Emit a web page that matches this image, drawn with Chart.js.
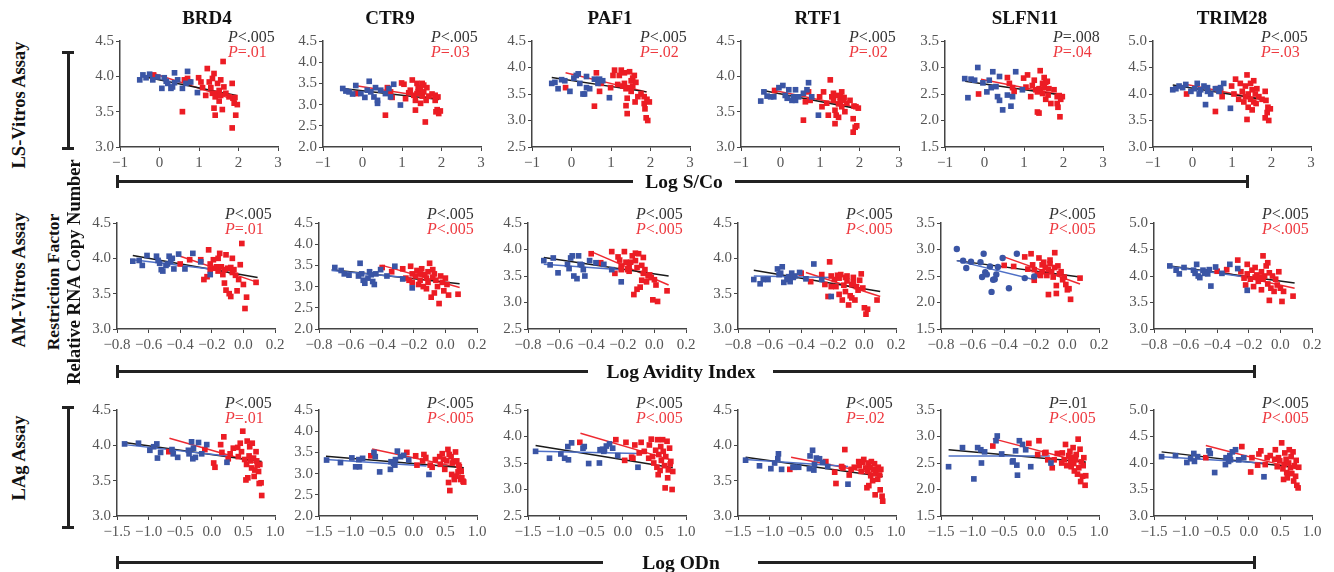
<!DOCTYPE html>
<html>
<head>
<meta charset="utf-8">
<script src="https://cdn.jsdelivr.net/npm/chart.js@4.4.0/dist/chart.umd.min.js"></script>
<style>
  body { margin: 0; background: #fff; width: 1334px; height: 572px; position: relative; overflow: hidden; font-family: 'Liberation Serif', serif; }
  canvas { position: absolute; }
  .gene { position: absolute; font-weight: bold; font-size: 19px; color: #111; white-space: nowrap; transform: translate(-50%, -50%); }
  .rot { position: absolute; font-weight: bold; font-size: 18.5px; color: #111; white-space: nowrap; transform: translate(-50%, -50%) rotate(-90deg); }
  .xtitle { position: absolute; font-weight: bold; font-size: 19.5px; color: #111; white-space: nowrap; transform: translate(-50%, -50%); }
  .pv { position: absolute; font-size: 16px; line-height: 15px; white-space: nowrap; }
  .bar { position: absolute; background: #222; }
</style>
</head>
<body>
<script>
'use strict';

const genes = ['BRD4', 'CTR9', 'PAF1', 'RTF1', 'SLFN11', 'TRIM28'];
const assays = ['LS-Vitros Assay', 'AM-Vitros Assay', 'LAg Assay'];
const xTitles = ['Log S/Co', 'Log Avidity Index', 'Log ODn'];

// y range per gene, x range per assay [min, max, step]
const yRanges = [[3.0, 4.5], [2.0, 4.5], [2.5, 4.5], [3.0, 4.5], [1.5, 3.5], [3.0, 5.0]];
const xRanges = [[-1, 3, 1], [-0.8, 0.2, 0.2], [-1.5, 1.0, 0.5]];

// LS-Vitros
const lsBlueX = [-0.5, -0.42, -0.34, -0.25, -0.17, -0.04, 0.06, 0.12, 0.17, 0.21, 0.29, 0.33, 0.38, 0.38, 0.46, 0.58, 0.67, 0.71, 0.79, 0.96];
const lsRedX = [-0.15, 0.58, 0.63, 0.71, 0.75, 0.99, 1.05, 1.09, 1.17, 1.21, 1.26, 1.3, 1.34, 1.34, 1.38, 1.38, 1.41, 1.41, 1.47, 1.47, 1.51, 1.51, 1.55, 1.55, 1.59, 1.61, 1.63, 1.68, 1.76, 1.84, 1.84, 1.86, 1.89, 1.91, 1.93, 1.97];
const lsBlueY = [
  [3.95, 4.02, 3.98, 4.03, 3.95, 3.99, 3.83, 3.98, 3.93, 3.9, 3.83, 3.85, 4.05, 3.91, 3.95, 3.83, 3.9, 4.07, 3.92, 3.77],
  [3.38, 3.32, 3.3, 3.25, 3.45, 3.26, 3.17, 3.34, 3.55, 3.3, 3.18, 3.4, 3.03, 3.1, 3.34, 3.26, 3.38, 3.18, 3.48, 2.99],
  [3.7, 3.72, 3.6, 3.77, 3.75, 3.55, 3.8, 3.85, 3.88, 3.7, 3.5, 3.5, 3.62, 3.83, 3.6, 3.78, 3.7, 3.78, 3.75, 3.43],
  [3.65, 3.78, 3.72, 3.71, 3.71, 3.84, 3.87, 3.73, 3.69, 3.81, 3.66, 3.71, 3.66, 3.81, 3.71, 3.76, 3.81, 3.91, 3.71, 3.45],
  [2.79, 2.43, 2.78, 2.76, 3.0, 2.71, 2.54, 2.76, 2.62, 2.92, 2.64, 2.45, 2.38, 2.83, 2.2, 2.48, 2.27, 2.45, 2.92, 2.58],
  [4.08, 4.1, 4.15, 4.12, 4.18, 4.05, 4.1, 4.2, 4.0, 4.08, 4.15, 3.8, 4.05, 4.12, 4.0, 4.1, 4.05, 4.12, 4.2, 3.73]
];
const lsRedY = [
  [4.02, 3.5, 3.95, 3.97, 3.92, 3.98, 3.92, 3.84, 3.73, 4.11, 3.92, 3.84, 3.97, 3.76, 4.04, 3.55, 3.71, 3.45, 3.9, 3.76, 3.8, 3.65, 3.95, 3.73, 3.53, 4.21, 3.85, 3.76, 3.71, 3.9, 3.27, 3.69, 3.62, 3.7, 3.45, 3.6],
  [3.26, 2.75, 3.4, 3.3, 3.17, 3.51, 3.48, 3.14, 3.28, 3.34, 3.58, 3.22, 3.1, 2.87, 3.5, 3.26, 3.3, 3.4, 3.03, 3.38, 3.2, 3.5, 3.46, 3.3, 2.59, 3.1, 3.4, 3.2, 3.25, 3.22, 3.1, 2.83, 2.88, 3.18, 2.79, 2.85],
  [3.62, 3.27, 3.9, 3.55, 3.7, 3.62, 3.85, 3.95, 3.68, 3.85, 3.95, 3.65, 3.9, 3.7, 3.28, 3.6, 3.13, 3.42, 3.92, 3.62, 3.75, 3.55, 3.8, 3.65, 3.85, 3.35, 3.72, 3.45, 3.5, 3.45, 3.32, 3.22, 3.05, 3.4, 3.0, 3.35],
  [3.8, 3.38, 3.64, 3.78, 3.66, 3.71, 3.57, 3.78, 3.62, 3.45, 3.95, 3.71, 3.76, 3.66, 3.33, 3.52, 3.73, 3.45, 3.61, 3.42, 3.71, 3.64, 3.78, 3.57, 3.66, 3.7, 3.5, 3.62, 3.66, 3.4, 3.21, 3.58, 3.28, 3.57, 3.3, 3.55],
  [2.5, 2.81, 2.7, 2.62, 2.55, 2.8, 2.63, 2.86, 2.45, 2.66, 2.76, 2.58, 2.16, 2.54, 2.14, 2.6, 2.94, 2.58, 2.7, 2.51, 2.81, 2.62, 2.4, 2.72, 2.74, 2.48, 2.6, 2.32, 2.58, 2.45, 2.32, 2.25, 2.47, 2.07, 2.4, 2.45],
  [4.0, 3.67, 4.1, 4.05, 3.95, 4.15, 4.0, 4.28, 3.9, 4.2, 4.05, 3.85, 4.15, 3.95, 4.36, 3.52, 4.0, 3.75, 4.2, 3.9, 4.08, 3.7, 4.25, 3.85, 4.0, 3.82, 4.1, 3.95, 3.9, 4.05, 3.55, 3.88, 3.65, 3.75, 3.5, 3.72]
];

// AM-Vitros
const amBlueX = [-0.7, -0.66, -0.64, -0.61, -0.55, -0.54, -0.53, -0.52, -0.51, -0.49, -0.48, -0.47, -0.46, -0.45, -0.44, -0.41, -0.37, -0.32, -0.27, -0.21];
const amRedX = [-0.4, -0.34, -0.27, -0.25, -0.23, -0.22, -0.21, -0.21, -0.19, -0.18, -0.17, -0.16, -0.16, -0.15, -0.14, -0.13, -0.12, -0.12, -0.11, -0.11, -0.1, -0.09, -0.08, -0.08, -0.07, -0.07, -0.06, -0.05, -0.04, -0.03, -0.02, -0.01, 0.0, 0.01, 0.02, 0.08];
const amBlueY = [
  [3.96, 3.97, 3.9, 4.04, 4.03, 3.97, 3.93, 3.84, 3.82, 3.9, 3.92, 4.03, 3.96, 4.0, 3.85, 4.06, 3.85, 4.07, 3.95, 3.77],
  [3.45, 3.38, 3.3, 3.27, 3.25, 3.55, 3.3, 3.15, 3.08, 3.2, 3.35, 3.28, 3.12, 3.05, 3.3, 3.4, 3.25, 3.48, 3.18, 2.97],
  [3.79, 3.71, 3.84, 3.56, 3.72, 3.64, 3.84, 3.88, 3.5, 3.45, 3.88, 3.72, 3.71, 3.62, 3.5, 3.79, 3.75, 3.72, 3.62, 3.39],
  [3.7, 3.64, 3.7, 3.7, 3.85, 3.77, 3.79, 3.88, 3.66, 3.7, 3.74, 3.67, 3.79, 3.73, 3.75, 3.8, 3.71, 3.92, 3.7, 3.46],
  [3.01, 2.79, 2.65, 2.77, 2.76, 2.48, 2.92, 2.57, 2.53, 2.68, 2.2, 2.43, 2.44, 2.53, 2.67, 2.84, 2.27, 2.92, 2.46, 2.49],
  [4.19, 4.11, 4.04, 4.16, 4.11, 4.05, 4.22, 4.0, 3.97, 4.11, 4.05, 4.08, 4.04, 4.12, 3.81, 4.17, 4.05, 4.22, 4.14, 3.73]
];
const amRedY = [
  [3.92, 3.98, 3.98, 3.7, 3.74, 4.12, 3.84, 3.92, 3.98, 3.86, 3.88, 4.0, 3.82, 4.07, 3.88, 3.77, 3.84, 3.65, 4.05, 3.55, 3.86, 3.5, 3.46, 3.87, 3.8, 4.0, 3.84, 3.76, 3.54, 3.7, 3.91, 4.21, 3.63, 3.29, 3.45, 3.66],
  [3.45, 3.35, 3.42, 3.2, 3.15, 3.48, 3.3, 3.1, 3.25, 3.38, 3.05, 3.3, 3.15, 3.42, 3.0, 3.28, 3.2, 2.95, 3.35, 3.1, 3.55, 2.75, 3.4, 3.22, 2.85, 3.3, 3.15, 3.0, 2.6, 3.25, 3.1, 2.9, 3.2, 3.05, 2.8, 2.82],
  [3.92, 3.75, 3.96, 3.55, 3.86, 3.8, 3.69, 3.62, 3.96, 3.76, 3.62, 3.66, 3.59, 3.76, 3.88, 3.15, 3.93, 3.79, 3.66, 3.25, 3.92, 3.29, 3.7, 3.42, 3.55, 3.85, 3.62, 3.39, 3.5, 3.52, 3.47, 3.05, 3.43, 3.33, 3.02, 3.22],
  [3.79, 3.67, 3.77, 3.63, 3.46, 3.95, 3.6, 3.75, 3.7, 3.6, 3.76, 3.72, 3.49, 3.77, 3.41, 3.62, 3.73, 3.53, 3.68, 3.75, 3.34, 3.47, 3.63, 3.44, 3.73, 3.66, 3.41, 3.6, 3.55, 3.69, 3.78, 3.58, 3.3, 3.21, 3.28, 3.41],
  [2.7, 2.68, 2.86, 2.63, 2.92, 2.71, 2.42, 2.62, 2.53, 2.84, 2.51, 2.71, 2.58, 2.76, 2.66, 2.51, 2.15, 2.62, 2.73, 2.8, 2.58, 2.48, 2.94, 2.66, 2.17, 2.32, 2.69, 2.54, 2.58, 2.43, 2.48, 2.34, 2.24, 2.26, 2.06, 2.46],
  [4.09, 4.12, 4.3, 4.08, 3.96, 3.83, 4.22, 4.04, 3.94, 4.11, 3.8, 4.16, 3.98, 4.02, 3.9, 3.98, 3.74, 4.08, 4.38, 3.94, 4.0, 4.19, 3.85, 4.25, 3.54, 4.06, 3.77, 4.0, 3.71, 3.94, 3.83, 4.08, 3.77, 3.52, 3.71, 3.62]
];

// LAg
const lagBlueX = [-1.38, -1.16, -0.98, -0.92, -0.87, -0.86, -0.81, -0.63, -0.61, -0.54, -0.37, -0.36, -0.32, -0.3, -0.29, -0.26, -0.21, -0.16, -0.08, 0.24];
const lagRedX = [-0.68, -0.11, 0.03, 0.05, 0.14, 0.16, 0.19, 0.26, 0.29, 0.34, 0.41, 0.42, 0.45, 0.47, 0.49, 0.52, 0.54, 0.55, 0.56, 0.57, 0.59, 0.6, 0.61, 0.63, 0.64, 0.66, 0.67, 0.68, 0.7, 0.71, 0.72, 0.74, 0.75, 0.76, 0.78, 0.79];
const lagBlueY = [
  [4.02, 4.03, 3.93, 3.98, 4.02, 3.82, 3.9, 3.94, 3.88, 3.83, 3.93, 3.88, 4.05, 3.81, 3.96, 3.83, 4.04, 3.88, 4.01, 3.76],
  [3.32, 3.26, 3.37, 3.16, 3.33, 3.16, 3.36, 3.5, 3.4, 3.04, 3.1, 3.28, 3.24, 3.2, 3.33, 3.53, 3.4, 3.43, 3.32, 2.98],
  [3.72, 3.59, 3.67, 3.59, 3.81, 3.56, 3.88, 3.78, 3.81, 3.49, 3.5, 3.75, 3.76, 3.72, 3.75, 3.82, 3.86, 3.78, 3.64, 3.42],
  [3.79, 3.71, 3.67, 3.75, 3.81, 3.88, 3.66, 3.69, 3.69, 3.69, 3.67, 3.85, 3.93, 3.65, 3.73, 3.82, 3.81, 3.76, 3.7, 3.45],
  [2.43, 2.79, 2.2, 2.79, 2.75, 2.5, 2.71, 2.92, 3.01, 2.67, 2.52, 2.54, 2.73, 2.46, 2.27, 2.92, 2.85, 2.75, 2.43, 2.5],
  [4.12, 4.14, 4.01, 4.08, 4.18, 4.03, 4.12, 4.23, 4.18, 3.82, 3.97, 4.1, 4.03, 4.14, 4.06, 4.21, 4.25, 4.06, 4.1, 3.74]
];
const lagRedY = [
  [3.91, 3.94, 3.75, 3.69, 4.01, 3.9, 4.12, 3.81, 3.88, 3.96, 3.97, 3.84, 4.03, 3.91, 4.2, 3.8, 3.51, 3.73, 4.06, 3.54, 3.85, 3.98, 3.78, 3.68, 4.03, 3.82, 3.56, 3.65, 3.91, 3.78, 3.72, 3.63, 3.46, 3.73, 3.47, 3.29],
  [3.42, 3.5, 3.42, 3.2, 3.3, 3.45, 3.38, 3.2, 3.15, 3.33, 3.4, 3.22, 3.47, 3.34, 3.1, 3.3, 3.57, 2.79, 3.45, 2.6, 3.4, 2.98, 3.25, 3.28, 2.86, 3.51, 2.94, 3.3, 3.04, 3.2, 3.16, 2.86, 3.05, 2.9, 2.82, 2.8],
  [3.89, 3.94, 3.55, 3.89, 3.61, 3.59, 3.84, 3.69, 3.89, 3.72, 3.59, 3.84, 3.95, 3.62, 3.5, 3.74, 3.42, 3.94, 3.28, 3.66, 3.36, 3.81, 3.55, 3.94, 3.72, 3.45, 3.03, 3.62, 3.91, 3.22, 3.37, 3.78, 3.48, 3.53, 3.0, 3.34],
  [3.66, 3.77, 3.62, 3.46, 3.7, 3.68, 3.94, 3.58, 3.66, 3.69, 3.77, 3.71, 3.63, 3.76, 3.8, 3.68, 3.4, 3.63, 3.75, 3.43, 3.69, 3.57, 3.77, 3.5, 3.66, 3.74, 3.3, 3.6, 3.66, 3.52, 3.69, 3.58, 3.37, 3.66, 3.28, 3.21],
  [2.82, 2.87, 2.66, 2.92, 2.69, 2.7, 2.56, 2.41, 2.56, 2.68, 2.5, 2.69, 2.56, 2.85, 2.45, 2.64, 2.72, 2.53, 2.43, 2.61, 2.79, 2.49, 2.35, 2.56, 2.66, 2.29, 2.95, 2.41, 2.76, 2.15, 2.52, 2.25, 2.45, 2.6, 2.08, 2.26],
  [4.1, 4.31, 3.83, 4.1, 3.96, 4.17, 4.23, 3.97, 4.1, 4.14, 4.07, 4.25, 3.93, 4.1, 4.04, 4.38, 3.89, 3.69, 3.97, 4.19, 4.07, 3.82, 3.72, 4.0, 4.25, 3.91, 4.12, 3.8, 4.21, 3.66, 3.95, 3.75, 4.05, 3.58, 3.53, 3.92]
];

// fitted lines, [x1, y1, x2, y2] per gene
const lsBlackFit = [[-0.45, 4.0, 1.95, 3.73], [-0.5, 3.38, 1.94, 3.12], [-0.5, 3.81, 1.9, 3.54], [-0.44, 3.8, 1.95, 3.54], [-0.49, 2.74, 1.95, 2.48], [-0.5, 4.17, 1.9, 3.88]];
const lsRedFit = [[-0.15, 4.04, 1.95, 3.66], [-0.12, 3.44, 1.94, 3.14], [-0.15, 3.9, 1.9, 3.54], [-0.15, 3.8, 1.93, 3.56], [-0.09, 2.78, 1.95, 2.48], [-0.15, 4.18, 1.9, 3.88]];
const amBlackFit = [[-0.7, 4.04, 0.09, 3.73], [-0.72, 3.4, 0.09, 3.07], [-0.7, 3.85, 0.09, 3.5], [-0.7, 3.83, 0.1, 3.53], [-0.7, 2.79, 0.08, 2.48], [-0.7, 4.19, 0.09, 3.87]];
const amRedFit = [[-0.4, 4.03, 0.09, 3.66], [-0.4, 3.5, 0.09, 2.98], [-0.4, 3.96, 0.09, 3.33], [-0.37, 3.8, 0.1, 3.46], [-0.41, 2.87, 0.08, 2.35], [-0.4, 4.09, 0.09, 3.77]];
const amBlueFit = [[-0.7, 3.98, -0.21, 3.85], [-0.72, 3.38, -0.22, 3.2], [-0.7, 3.72, -0.21, 3.62], [-0.7, 3.75, -0.21, 3.73], [-0.7, 2.79, -0.22, 2.44], [-0.7, 4.18, -0.22, 3.98]];
const lagBlackFit = [[-1.38, 4.04, 0.79, 3.77], [-1.39, 3.41, 0.79, 3.14], [-1.38, 3.83, 0.79, 3.41], [-1.38, 3.83, 0.79, 3.56], [-1.38, 2.75, 0.79, 2.52], [-1.38, 4.21, 0.78, 3.91]];
const lagRedFit = [[-0.67, 4.1, 0.79, 3.73], [-0.66, 3.58, 0.79, 3.12], [-0.67, 4.06, 0.79, 3.55], [-0.66, 3.83, 0.79, 3.58], [-0.68, 2.96, 0.79, 2.5], [-0.68, 4.33, 0.78, 3.88]];
const lagBlueFit = [[-1.38, 4.01, 0.24, 3.85], [-1.39, 3.33, 0.2, 3.18], [-1.38, 3.72, 0.24, 3.68], [-1.38, 3.8, 0.24, 3.7], [-1.38, 2.63, 0.22, 2.63], [-1.38, 4.12, 0.22, 4.0]];

const pBlack = [
  ['<.005', '<.005', '<.005', '<.005', '=.008', '<.005'],
  ['<.005', '<.005', '<.005', '<.005', '<.005', '<.005'],
  ['<.005', '<.005', '<.005', '<.005', '=.01', '<.005']
];
const pRed = [
  ['=.01', '=.03', '=.02', '=.02', '=.04', '=.03'],
  ['=.01', '<.005', '<.005', '<.005', '<.005', '<.005'],
  ['=.01', '<.005', '<.005', '=.02', '<.005', '<.005']
];

const rows = [
  { blueX: lsBlueX, redX: lsRedX, blueY: lsBlueY, redY: lsRedY, black: lsBlackFit, red: lsRedFit, blue: null },
  { blueX: amBlueX, redX: amRedX, blueY: amBlueY, redY: amRedY, black: amBlackFit, red: amRedFit, blue: amBlueFit },
  { blueX: lagBlueX, redX: lagRedX, blueY: lagBlueY, redY: lagRedY, black: lagBlackFit, red: lagRedFit, blue: lagBlueFit }
];

// layout in page pixels
const plotLefts = [
  [120, 323, 532, 741, 945, 1153],
  [117, 319, 528, 738, 941, 1154],
  [117, 319, 528, 738, 941, 1154]
];
const plotTops = [41, 223, 410];
const plotH = 106;
const plotW = 158;
const geneCenters = [207, 390, 610, 818, 1025, 1232];
const pTops = [29, 206, 395];

const blueColor = '#3a55a5';
const redColor = '#ec1c24';

function fmtTick(v) {
  if (Math.abs(v) < 1e-9) {
    return this.chart.options.scales.x.ticks.stepSize === 1 ? '0' : '0.0';
  }
  const s = this.chart.options.scales.x.ticks.stepSize === 1 ? Math.abs(v).toFixed(0) : Math.abs(v).toFixed(1);
  return (v < 0 ? '\u2212' : '') + s;
}

function toPoints(xs, ys) {
  return xs.map((x, i) => ({ x: x, y: ys[i] }));
}

function fitSet(f, color, width) {
  return {
    type: 'line',
    data: [{ x: f[0], y: f[1] }, { x: f[2], y: f[3] }],
    borderColor: color,
    borderWidth: width,
    pointRadius: 0,
    fill: false,
    clip: false
  };
}

function addDiv(cls, html, left, top) {
  let d = document.createElement('div');
  d.className = cls;
  d.innerHTML = html;
  d.style.left = left + 'px';
  d.style.top = top + 'px';
  document.body.appendChild(d);
  return d;
}

function addBar(left, top, w, h) {
  let d = document.createElement('div');
  d.className = 'bar';
  d.style.left = left + 'px';
  d.style.top = top + 'px';
  d.style.width = w + 'px';
  d.style.height = h + 'px';
  document.body.appendChild(d);
}

function renderPanel(r, g) {
  const row = rows[r];
  const padL = 4, yW = 36, padR = 16, padT = 10, xH = 24, padB = 4;
  let w = padL + yW + plotW + padR;
  let h = padT + plotH + xH + padB;
  let cv = document.createElement('canvas');
  cv.width = w;
  cv.height = h;
  cv.style.width = w + 'px';
  cv.style.height = h + 'px';
  cv.style.left = (plotLefts[r][g] - padL - yW) + 'px';
  cv.style.top = (plotTops[r] - padT) + 'px';
  document.body.appendChild(cv);

  let datasets = [
    {
      data: toPoints(row.blueX, row.blueY[g]),
      backgroundColor: blueColor,
      borderColor: blueColor,
      borderWidth: 0,
      pointStyle: (r === 1 && g === 4) ? 'circle' : 'rect',
      pointRadius: (r === 1 && g === 4) ? 3.2 : 4,
      clip: false
    },
    {
      data: toPoints(row.redX, row.redY[g]),
      backgroundColor: redColor,
      borderColor: redColor,
      borderWidth: 0,
      pointStyle: 'rect',
      pointRadius: 4,
      clip: false
    }
  ];
  if (row.blue) {
    datasets.push(fitSet(row.blue[g], '#4f70c6', 1.5));
  }
  datasets.push(fitSet(row.black[g], '#1a1a1a', 1.5));
  datasets.push(fitSet(row.red[g], '#ee2a31', 1.5));

  const xr = xRanges[r];
  const yr = yRanges[g];
  const tickFont = { family: 'Liberation Serif', size: 15 };

  new Chart(cv, {
    type: 'scatter',
    data: { datasets: datasets },
    options: {
      responsive: false,
      animation: false,
      events: [],
      layout: { autoPadding: false, padding: { left: padL, right: padR, top: padT, bottom: padB } },
      plugins: { legend: { display: false }, tooltip: { enabled: false } },
      scales: {
        x: {
          type: 'linear',
          min: xr[0],
          max: xr[1],
          ticks: { stepSize: xr[2], callback: fmtTick, color: '#555', font: tickFont, padding: 3, maxRotation: 0, autoSkip: false },
          grid: { drawOnChartArea: false, drawTicks: true, tickLength: 4, color: '#444', lineWidth: 1 },
          border: { color: '#444', width: 1.5 },
          afterFit: function (s) { s.height = xH; s.paddingLeft = 0; s.paddingRight = 0; }
        },
        y: {
          type: 'linear',
          min: yr[0],
          max: yr[1],
          ticks: { stepSize: 0.5, callback: (v) => v.toFixed(1), color: '#555', font: tickFont, padding: 2 },
          grid: { drawOnChartArea: false, drawTicks: true, tickLength: 4, color: '#444', lineWidth: 1 },
          border: { color: '#444', width: 1.5 },
          afterFit: function (s) { s.width = yW; s.paddingTop = 0; s.paddingBottom = 0; }
        }
      }
    }
  });

  addDiv('pv', '<span style="color:#333"><i>P</i>' + pBlack[r][g] + '</span><br><span style="color:#ee3a40"><i>P</i>' + pRed[r][g] + '</span>',
    plotLefts[r][g] + 108, pTops[r]);
}

for (let r = 0; r < 3; r++) {
  for (let g = 0; g < genes.length; g++) {
    renderPanel(r, g);
  }
}

for (let g = 0; g < genes.length; g++) {
  addDiv('gene', genes[g], geneCenters[g], 18);
}

// row labels and brackets
addDiv('rot', assays[0], 19, 105);
addDiv('rot', assays[1], 19, 280);
addDiv('rot', assays[2], 19, 458);
let rf = addDiv('rot', 'Restriction Factor', 53, 282);
rf.style.fontSize = '17.5px';
addDiv('rot', 'Relative RNA Copy Number', 74, 272);
addBar(67, 52, 3, 97);
addBar(62, 51, 12, 3);
addBar(62, 147, 12, 3);
addBar(67, 407, 3, 121);
addBar(62, 406, 12, 3);
addBar(62, 526, 12, 3);

// x axis titles with rule lines
const titleRows = [
  { y: 181, l1: 633, r1: 735, end: 1248, cx: 684 },
  { y: 371, l1: 588, r1: 773, end: 1255, cx: 681 },
  { y: 562, l1: 603, r1: 758, end: 1255, cx: 681 }
];
for (let i = 0; i < 3; i++) {
  const t = titleRows[i];
  addBar(118, t.y - 1, t.l1 - 118, 3);
  addBar(116, t.y - 6, 3, 13);
  addBar(t.r1, t.y - 1, t.end - t.r1, 3);
  addBar(t.end - 2, t.y - 6, 3, 13);
  addDiv('xtitle', xTitles[i], t.cx, t.y + 1);
}
</script>
</body>
</html>
